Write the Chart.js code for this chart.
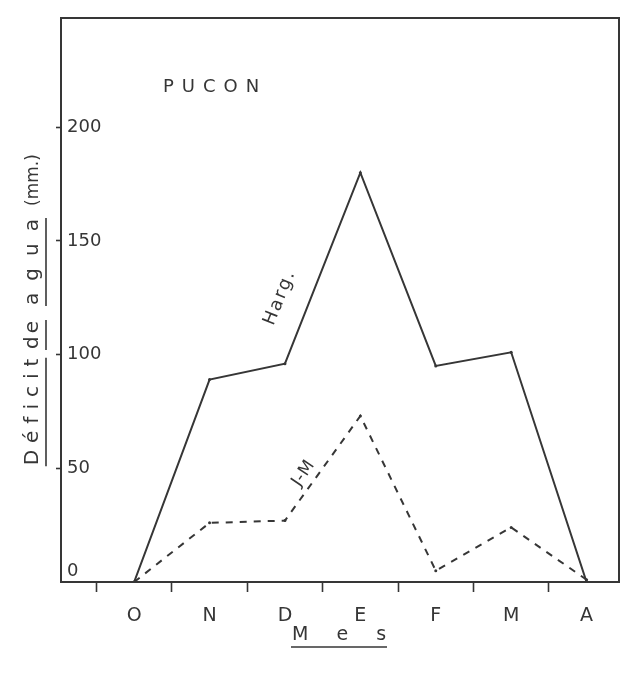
<!DOCTYPE html>
<html>
<head>
<meta charset="utf-8">
<script src="https://cdn.jsdelivr.net/npm/chart.js@4.4.1/dist/chart.umd.min.js"></script>
<style>
  html, body { margin: 0; padding: 0; background: #fff; }
  #wrap { width: 623px; height: 673px; }
</style>
</head>
<body>
<div id="wrap"><canvas id="chart"></canvas></div>
<script>
// Déficit de agua, Pucón (mm.)
const months = ['O', 'N', 'D', 'E', 'F', 'M', 'A'];
const hargValues = [0, 89, 96, 180, 95, 101, 0];
const jmValues = [0, 26, 27, 73, 5, 24, 1];
const yTickValues = [0, 50, 100, 150, 200];

const INK = '#363636';
const FONT = '"DejaVu Sans", sans-serif';

const toPoints = values => values.map((v, i) => ({ x: i, y: v }));

// draws a centred piece of text, optionally rotated and underlined
function drawText(ctx, text, x, y, opts) {
  ctx.save();
  ctx.translate(x, y);
  if (opts.angle) ctx.rotate(opts.angle * Math.PI / 180);
  ctx.font = opts.font;
  ctx.fillStyle = INK;
  ctx.letterSpacing = (opts.spacing || 0) + 'px';
  ctx.textBaseline = 'alphabetic';
  ctx.textAlign = 'left';
  const w = ctx.measureText(text).width - (opts.spacing || 0);
  ctx.fillText(text, -w / 2, 0);
  if (opts.underline) {
    ctx.strokeStyle = INK;
    ctx.lineWidth = 1.6;
    ctx.beginPath();
    ctx.moveTo(-w / 2 - 1, opts.underline);
    ctx.lineTo(w / 2 + 1, opts.underline);
    ctx.stroke();
  }
  ctx.restore();
}

const decorations = {
  id: 'decorations',
  beforeDraw(chart) {
    const ctx = chart.ctx;
    ctx.save();
    ctx.fillStyle = '#fff';
    ctx.fillRect(0, 0, chart.width, chart.height);
    ctx.restore();
  },
  afterDraw(chart) {
    const { ctx, chartArea: a } = chart;
    // top and right edges of the frame
    ctx.save();
    ctx.strokeStyle = INK;
    ctx.lineWidth = 2;
    ctx.beginPath();
    ctx.moveTo(a.left, a.top);
    ctx.lineTo(a.right, a.top);
    ctx.lineTo(a.right, a.bottom);
    ctx.stroke();
    ctx.restore();

    drawText(ctx, 'PUCON', 211, 92, { font: '18px ' + FONT, spacing: 8 });

    // vertical axis title, one word at a time
    const yTitle = { font: '20px ' + FONT, angle: -90 };
    drawText(ctx, 'Déficit', 38, 412, { ...yTitle, spacing: 7, underline: 8 });
    drawText(ctx, 'de', 38, 335, { ...yTitle, spacing: 3, underline: 8 });
    drawText(ctx, 'agua', 38, 262, { ...yTitle, spacing: 12, underline: 8 });
    drawText(ctx, '(mm.)', 38, 180, { ...yTitle, font: '17px ' + FONT, spacing: 0 });

    drawText(ctx, 'M e s', 339, 640,
      { font: '19px ' + FONT, spacing: 11, underline: 7 });
    drawText(ctx, 'Harg.', 284, 300, { font: '18px ' + FONT, spacing: 2, angle: -68 });
    drawText(ctx, 'J-M', 307, 476, { font: '17px ' + FONT, spacing: 1, angle: -56 });
  }
};

new Chart(document.getElementById('chart'), {
  type: 'line',
  data: {
    datasets: [
      {
        label: 'Harg.',
        data: toPoints(hargValues),
        borderColor: INK,
        borderWidth: 2,
        pointRadius: 1.5,
        pointBackgroundColor: INK,
        pointBorderWidth: 0,
        tension: 0
      },
      {
        label: 'J-M',
        data: toPoints(jmValues),
        borderColor: INK,
        borderWidth: 2,
        borderDash: [7, 7],
        pointRadius: 1.5,
        pointBackgroundColor: INK,
        pointBorderWidth: 0,
        tension: 0
      }
    ]
  },
  options: {
    responsive: true,
    maintainAspectRatio: false,
    animation: false,
    layout: { padding: { top: 18, right: 0, left: 0, bottom: 0 } },
    plugins: {
      legend: { display: false },
      tooltip: { enabled: false }
    },
    scales: {
      x: {
        type: 'linear',
        min: -0.97,
        max: 6.43,
        afterFit: s => { s.height = 91; },
        afterBuildTicks: s => {
          const ticks = [];
          months.forEach((m, i) => { ticks.push({ value: i - 0.5 }, { value: i }); });
          s.ticks = ticks;
        },
        border: { color: INK, width: 2 },
        grid: {
          drawOnChartArea: false,
          tickLength: 10,
          tickWidth: 1.6,
          color: ctx => Number.isInteger(ctx.tick.value) ? 'rgba(0,0,0,0)' : INK
        },
        ticks: {
          color: INK,
          padding: 13,
          autoSkip: false,
          maxRotation: 0,
          font: { family: FONT, size: 19 },
          callback: v => Number.isInteger(v) ? months[v] : ''
        }
      },
      y: {
        min: 0,
        max: 248,
        afterFit: s => { s.width = 61; },
        afterBuildTicks: s => { s.ticks = yTickValues.map(v => ({ value: v })); },
        border: { color: INK, width: 2 },
        grid: {
          drawOnChartArea: false,
          tickLength: 5,
          tickWidth: 1.6,
          color: ctx => ctx.tick.value === 0 ? 'rgba(0,0,0,0)' : INK
        },
        ticks: {
          mirror: true,
          padding: 6,
          color: INK,
          font: { family: FONT, size: 18 },
          callback: v => v === 0 ? ['0', ''] : String(v)
        }
      }
    }
  },
  plugins: [decorations]
});
</script>
</body>
</html>
